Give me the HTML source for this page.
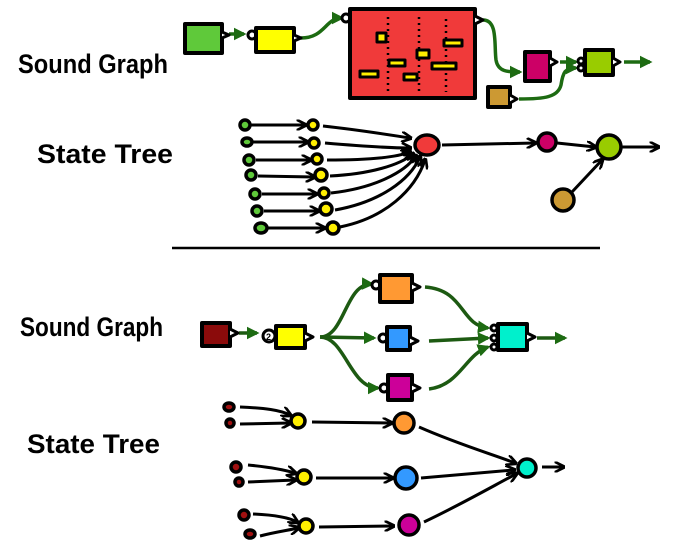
<!DOCTYPE html>
<html><head><meta charset="utf-8"><style>
html,body{margin:0;padding:0;background:#fff;width:700px;height:544px;overflow:hidden}
svg{display:block}
text{font-family:"Liberation Sans",sans-serif;font-weight:bold;fill:#000}
</style></head><body>
<svg width="700" height="544" viewBox="0 0 700 544">
<defs>
<marker id="ag" viewBox="0 0 10 10" refX="8" refY="5" markerWidth="3.6" markerHeight="3.6" orient="auto"><path d="M0,0 L10,5 L0,10 z" fill="#1d6b12"/></marker>
<marker id="ak" viewBox="0 0 10 10" refX="8" refY="5" markerWidth="3.6" markerHeight="3.6" orient="auto"><path d="M0,0 L10,5 L0,10" fill="none" stroke="#000" stroke-width="2.5"/></marker>
</defs>

<text x="18" y="73" font-size="27" textLength="150" lengthAdjust="spacingAndGlyphs">Sound Graph</text>
<text x="37" y="163" font-size="27" textLength="136" lengthAdjust="spacingAndGlyphs">State Tree</text>
<text x="20" y="336" font-size="27" textLength="143" lengthAdjust="spacingAndGlyphs">Sound Graph</text>
<text x="27" y="453" font-size="27" textLength="133" lengthAdjust="spacingAndGlyphs">State Tree</text>

<g stroke="#000" stroke-width="4" stroke-linejoin="round">
 <g fill="none" stroke="#1d6b12" stroke-width="3.5">
  <path d="M229,34 L244,34" marker-end="url(#ag)"/>
  <path d="M301,38 C325,38 325,18 342,18" marker-end="url(#ag)"/>
  <path d="M483,20 C498,20 494,45 496,60 C498,72 508,72 520,72" marker-end="url(#ag)"/>
  <path d="M560,62 L576,62" marker-end="url(#ag)"/>
  <path d="M519,99 C545,99 558,97 561,85 C563,72 565,68 576,68" marker-end="url(#ag)"/>
  <path d="M624,62 L650,62" marker-end="url(#ag)"/>
 </g>
 <rect x="185" y="24" width="37" height="29" fill="#5fc93a"/>
 <path d="M222,32 L229,35 L222,38" fill="#fff" stroke-width="3"/>
 <circle cx="252" cy="35" r="4" fill="#fff" stroke-width="3"/>
 <rect x="256" y="28" width="38" height="24" fill="#ffff00"/>
 <path d="M294,35 L301,38 L294,41" fill="#fff" stroke-width="3"/>
 <circle cx="346" cy="18" r="4" fill="#fff" stroke-width="3"/>
 <rect x="350" y="9" width="125" height="89" fill="#f03a3a"/>
 <path d="M475,16 L483,20 L475,24" fill="#fff" stroke-width="3"/>
 <g stroke-dasharray="2 4" stroke-width="2.5">
  <line x1="388" y1="17" x2="388" y2="94"/><line x1="419" y1="17" x2="419" y2="94"/><line x1="446" y1="19" x2="446" y2="92"/>
 </g>
 <g fill="#ffef00" stroke-width="3">
  <rect x="377" y="33" width="9" height="9"/><rect x="389" y="60" width="16" height="6"/><rect x="360" y="71" width="18" height="6"/>
  <rect x="404" y="74" width="13" height="6"/><rect x="417" y="50" width="12" height="8"/><rect x="432" y="63" width="24" height="6"/>
  <rect x="444" y="40" width="18" height="6"/>
 </g>
 <rect x="525" y="52" width="25" height="29" fill="#cc0066"/>
 <path d="M550,58 L557,62 L550,66" fill="#fff" stroke-width="3"/>
 <rect x="488" y="87" width="22" height="20" fill="#cc9933"/>
 <path d="M510,95 L517,99 L510,103" fill="#fff" stroke-width="3"/>
 <circle cx="581" cy="61" r="3" fill="#fff" stroke-width="3"/><circle cx="581" cy="68" r="3" fill="#fff" stroke-width="3"/>
 <rect x="585" y="50" width="28" height="25" fill="#99cc00"/>
 <path d="M613,58 L620,62 L613,66" fill="#fff" stroke-width="3"/>
</g>

<g stroke="#000">
 <g fill="none" stroke-width="3">
  <path d="M251,125 L305,125" marker-end="url(#ak)"/>
  <path d="M253,142 L307,142" marker-end="url(#ak)"/>
  <path d="M256,160 L310,160" marker-end="url(#ak)"/>
  <path d="M258,176 L314,177" marker-end="url(#ak)"/>
  <path d="M262,194 L316,194" marker-end="url(#ak)"/>
  <path d="M264,211 L318,211" marker-end="url(#ak)"/>
  <path d="M268,228 L324,228" marker-end="url(#ak)"/>
  <path d="M323,126 C360,130 390,135 410,138" marker-end="url(#ak)"/>
  <path d="M325,143 C360,146 390,148 410,148" marker-end="url(#ak)"/>
  <path d="M327,160 C365,160 395,158 410,152" marker-end="url(#ak)"/>
  <path d="M330,176 C370,174 400,165 413,154" marker-end="url(#ak)"/>
  <path d="M331,193 C375,188 405,172 416,156" marker-end="url(#ak)"/>
  <path d="M335,210 C380,202 410,180 420,157" marker-end="url(#ak)"/>
  <path d="M340,227 C385,218 415,190 425,160" marker-end="url(#ak)"/>
  <path d="M442,145 L535,143" marker-end="url(#ak)"/>
  <path d="M557,143 L595,147" marker-end="url(#ak)"/>
  <path d="M622,147 L658,147" marker-end="url(#ak)"/>
  <path d="M572,192 L602,160" marker-end="url(#ak)"/>
 </g>
 <g stroke-width="3.5">
  <g fill="#5fc93a"><ellipse cx="245" cy="125" rx="5" ry="5"/><ellipse cx="247" cy="142" rx="5" ry="4"/><ellipse cx="249" cy="160" rx="5" ry="5"/><ellipse cx="251" cy="175" rx="5" ry="5"/><ellipse cx="255" cy="194" rx="5" ry="5"/><ellipse cx="257" cy="211" rx="5" ry="5"/><ellipse cx="261" cy="228" rx="6" ry="5"/></g>
  <g fill="#ffef00"><circle cx="313" cy="125" r="5"/><circle cx="314" cy="143" r="5"/><circle cx="317" cy="159" r="5"/><circle cx="321" cy="175" r="6"/><circle cx="324" cy="193" r="5"/><circle cx="326" cy="209" r="6"/><circle cx="333" cy="228" r="6"/></g>
  <ellipse cx="427" cy="145" rx="12" ry="10" fill="#f03a3a"/>
  <circle cx="547" cy="142" r="9" fill="#cc0066"/>
  <circle cx="609" cy="147" r="12" fill="#99cc00"/>
  <circle cx="563" cy="200" r="11" fill="#cc9933"/>
 </g>
</g>

<line x1="172" y1="248" x2="600" y2="248" stroke="#000" stroke-width="2.5"/>

<g stroke="#000" stroke-width="4" stroke-linejoin="round">
 <g fill="none" stroke="#1d5a12" stroke-width="3.5">
  <path d="M239,333 L257,333" marker-end="url(#ag)"/>
  <path d="M320,337 C345,337 345,283 372,284" marker-end="url(#ag)"/>
  <path d="M320,337 L374,338" marker-end="url(#ag)"/>
  <path d="M320,337 C345,337 350,388 378,388" marker-end="url(#ag)"/>
  <path d="M425,287 C465,290 460,325 488,328" marker-end="url(#ag)"/>
  <path d="M429,341 L488,338" marker-end="url(#ag)"/>
  <path d="M429,389 C460,385 465,355 488,347" marker-end="url(#ag)"/>
  <path d="M537,338 L565,338" marker-end="url(#ag)"/>
 </g>
 <rect x="202" y="323" width="28" height="23" fill="#8b0b0b"/>
 <path d="M230,329 L238,333 L230,337" fill="#fff" stroke-width="3"/>
 <circle cx="269" cy="336" r="6" fill="#fff" stroke-width="3"/>
 <text x="266" y="340" font-size="9" stroke="none">2</text>
 <rect x="276" y="326" width="29" height="22" fill="#ffff00"/>
 <path d="M305,333 L313,337 L305,341" fill="#fff" stroke-width="3"/>
 <circle cx="376" cy="285" r="4" fill="#fff" stroke-width="3"/>
 <rect x="380" y="275" width="32" height="27" fill="#ff9933"/>
 <path d="M412,283 L420,287 L412,291" fill="#fff" stroke-width="3"/>
 <circle cx="383" cy="338" r="4" fill="#fff" stroke-width="3"/>
 <rect x="387" y="327" width="23" height="23" fill="#3399ff"/>
 <path d="M410,337 L418,341 L410,345" fill="#fff" stroke-width="3"/>
 <circle cx="384" cy="388" r="4" fill="#fff" stroke-width="3"/>
 <rect x="388" y="375" width="24" height="25" fill="#cc0099"/>
 <path d="M412,384 L420,388 L412,392" fill="#fff" stroke-width="3"/>
 <circle cx="494" cy="328" r="3" fill="#fff" stroke-width="3"/><circle cx="494" cy="338" r="3" fill="#fff" stroke-width="3"/><circle cx="494" cy="347" r="3" fill="#fff" stroke-width="3"/>
 <rect x="498" y="324" width="29" height="26" fill="#00f0cc"/>
 <path d="M527,333 L535,337 L527,341" fill="#fff" stroke-width="3"/>
</g>

<g stroke="#000">
 <g fill="none" stroke-width="3">
  <path d="M240,407 C265,408 280,410 290,415" marker-end="url(#ak)"/>
  <path d="M240,424 L290,423" marker-end="url(#ak)"/>
  <path d="M248,465 C270,467 285,470 295,473" marker-end="url(#ak)"/>
  <path d="M248,482 L295,480" marker-end="url(#ak)"/>
  <path d="M253,514 C275,515 290,518 297,522" marker-end="url(#ak)"/>
  <path d="M260,536 C275,532 290,530 298,528" marker-end="url(#ak)"/>
  <path d="M312,422 L391,423" marker-end="url(#ak)"/>
  <path d="M316,478 L392,478" marker-end="url(#ak)"/>
  <path d="M319,527 L393,526" marker-end="url(#ak)"/>
  <path d="M419,427 C460,445 495,455 515,463" marker-end="url(#ak)"/>
  <path d="M421,478 L514,470" marker-end="url(#ak)"/>
  <path d="M424,522 C460,505 495,485 516,474" marker-end="url(#ak)"/>
  <path d="M542,467 L563,467" marker-end="url(#ak)"/>
 </g>
 <g stroke-width="3.5">
  <g fill="#a01010"><ellipse cx="229" cy="407" rx="5" ry="4"/><ellipse cx="230" cy="423" rx="4" ry="4"/><ellipse cx="236" cy="467" rx="5" ry="5"/><ellipse cx="239" cy="482" rx="4" ry="4"/><ellipse cx="244" cy="515" rx="5" ry="5"/><ellipse cx="250" cy="534" rx="5" ry="4"/></g>
  <g fill="#ffef00"><circle cx="298" cy="421" r="7"/><circle cx="304" cy="477" r="7"/><circle cx="306" cy="526" r="7"/></g>
  <circle cx="404" cy="423" r="10" fill="#ff9933"/>
  <circle cx="406" cy="478" r="11" fill="#3399ff"/>
  <circle cx="409" cy="525" r="10" fill="#cc0099"/>
  <circle cx="527" cy="468" r="9" fill="#00f0cc"/>
 </g>
</g>
</svg>
</body></html>
